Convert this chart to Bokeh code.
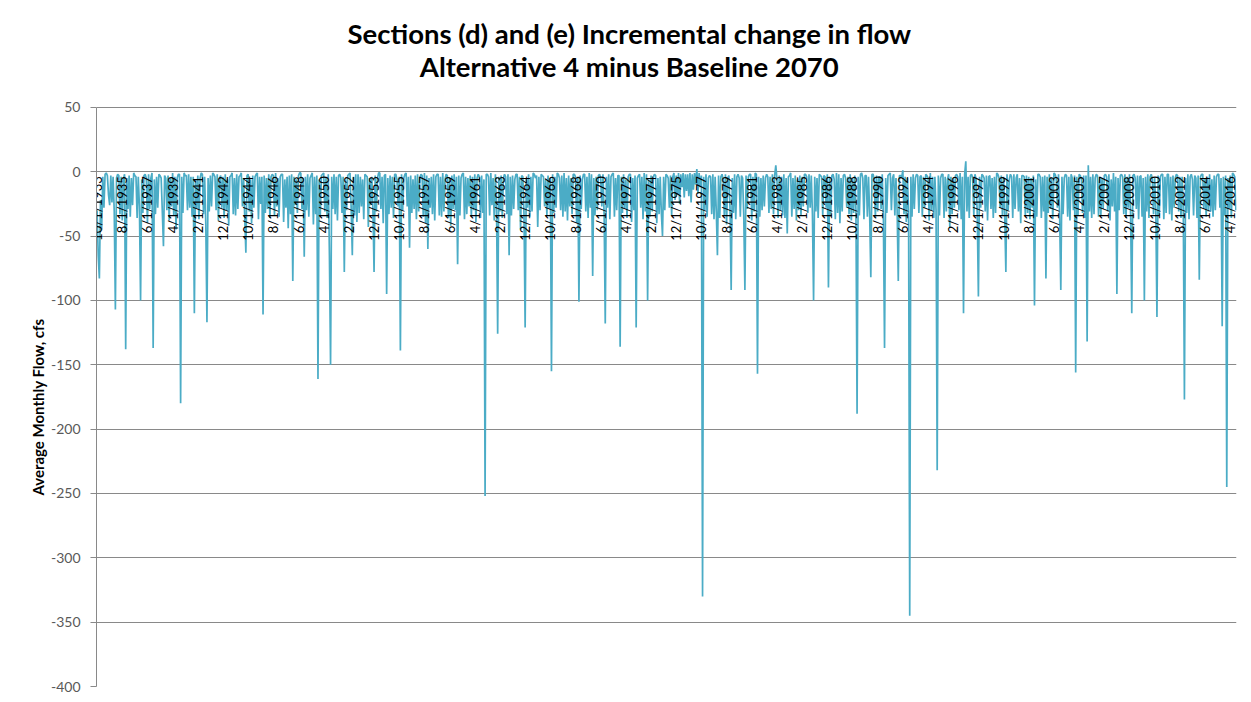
import numpy as np
from math import pi
from bokeh.plotting import figure
from bokeh.models import Range1d, FixedTicker, Label, Title, ColumnDataSource
from bokeh.core.properties import value
from bokeh.embed import file_html
from bokeh.resources import INLINE

# ---------------- data ----------------
START_YEAR, START_MONTH = 1933, 10   # first month of the series (10/1/1933)

# Incremental change in flow (cfs), one row per water year (Oct..Sep)
flow_rows = [
    [-30, -65, -83, -22, -45, -4, -28, -2, -1, -3, -18, -26],
    [-3, -24, -4, -31, -107, -5, -2, -3, -33, -4, -38, -6],
    [-2, -138, -5, -29, -3, -35, -5, -26, -1, -3, -4, -36],
    [-4, -27, -100, -6, -32, -3, -2, -5, -40, -2, -29, -5],
    [-1, -137, -6, -33, -4, -28, -2, -3, -5, -31, -58, -3],
    [-5, -30, -3, -38, -5, -27, -1, -34, -4, -45, -5, -2],
    [-2, -180, -4, -32, -1, -3, -3, -30, -2, -28, -4, -35],
    [-4, -110, -6, -29, -3, -37, -5, -1, -2, -33, -4, -41],
    [-117, -5, -31, -3, -27, -1, -2, -4, -30, -2, -38, -5],
    [-3, -28, -4, -36, -2, -30, -6, -42, -4, -3, -1, -33],
    [-5, -34, -2, -29, -4, -3, -1, -27, -5, -35, -63, -3],
    [-2, -31, -6, -40, -3, -28, -4, -2, -1, -37, -4, -25],
    [-4, -111, -3, -32, -5, -29, -2, -36, -4, -2, -3, -34],
    [-1, -27, -5, -35, -4, -2, -2, -39, -6, -28, -4, -44],
    [-3, -33, -2, -85, -4, -26, -6, -32, -3, -1, -1, -29],
    [-5, -66, -4, -30, -2, -35, -5, -3, -1, -41, -4, -33],
    [-3, -161, -6, -34, -3, -2, -1, -31, -5, -36, -2, -65],
    [-150, -4, -29, -2, -33, -4, -38, -3, -2, -5, -32, -4],
    [-78, -6, -30, -3, -2, -1, -28, -65, -4, -34, -2, -39],
    [-2, -32, -4, -27, -6, -37, -2, -3, -4, -43, -5, -26],
    [-4, -28, -78, -3, -31, -5, -1, -1, -29, -4, -40, -3],
    [-2, -95, -5, -33, -3, -28, -4, -36, -2, -2, -6, -27],
    [-4, -139, -2, -30, -5, -2, -1, -27, -4, -59, -3, -32],
    [-6, -29, -3, -37, -2, -31, -5, -2, -3, -35, -1, -40],
    [-3, -60, -5, -28, -4, -33, -2, -38, -4, -2, -2, -34],
    [-4, -35, -1, -31, -6, -2, -3, -36, -5, -42, -3, -29],
    [-2, -30, -4, -72, -3, -34, -5, -2, -1, -37, -4, -33],
    [-5, -27, -3, -35, -4, -30, -2, -39, -5, -2, -4, -36],
    [-3, -32, -6, -252, -2, -2, -4, -34, -1, -26, -5, -38],
    [-2, -28, -126, -4, -31, -3, -36, -5, -2, -4, -33, -2],
    [-65, -4, -34, -3, -29, -6, -2, -2, -30, -4, -45, -3],
    [-4, -33, -121, -5, -28, -2, -35, -4, -31, -1, -2, -5],
    [-3, -43, -4, -30, -2, -3, -4, -27, -6, -34, -3, -29],
    [-5, -155, -2, -32, -4, -28, -1, -2, -5, -30, -3, -35],
    [-1, -31, -5, -38, -3, -27, -5, -33, -2, -2, -4, -40],
    [-4, -101, -3, -29, -6, -2, -2, -31, -4, -36, -1, -28],
    [-2, -81, -5, -34, -4, -30, -3, -2, -5, -27, -2, -33],
    [-118, -4, -28, -2, -37, -4, -2, -1, -35, -5, -30, -3],
    [-3, -136, -4, -32, -2, -29, -6, -36, -4, -2, -2, -39],
    [-5, -30, -3, -121, -5, -3, -2, -28, -4, -37, -1, -31],
    [-2, -100, -6, -35, -3, -31, -4, -2, -3, -40, -5, -33],
    [-4, -32, -50, -4, -30, -2, -3, -5, -28, -3, -34, -4],
    [-1, -22, -3, -18, -1, -25, -2, -12, -1, -20, -2, -15],
    [-2, -19, -1, -24, -2, -14, -1, -10, 2, -17, -1, -12],
    [-3, -330, -4, -30, -2, -35, -5, -3, -4, -33, -2, -37],
    [-4, -31, -65, -3, -36, -4, -2, -6, -34, -2, -41, -5],
    [-3, -28, -92, -5, -32, -2, -37, -4, -2, -5, -35, -3],
    [-5, -34, -92, -3, -29, -4, -2, -2, -38, -4, -31, -1],
    [-2, -157, -4, -35, -5, -30, -3, -27, -5, -2, -4, -32],
    [-4, -29, -2, -33, -3, 5, -6, -36, -3, -30, -4, -34],
    [-2, -36, -5, -48, -4, -3, -1, -35, -5, -29, -3, -38],
    [-6, -30, -3, -34, -4, -27, -2, -2, -4, -32, -2, -28],
    [-3, -33, -100, -4, -31, -5, -36, -2, -3, -4, -34, -3],
    [-4, -28, -2, -90, -4, -35, -3, -2, -6, -37, -1, -32],
    [-2, -40, -5, -31, -3, -2, -5, -28, -4, -33, -2, -38],
    [-5, -32, -3, -29, -188, -4, -34, -2, -1, -5, -37, -3],
    [-3, -35, -4, -33, -82, -2, -2, -6, -36, -3, -31, -4],
    [-4, -29, -2, -37, -137, -5, -32, -3, -2, -1, -30, -5],
    [-2, -34, -5, -30, -85, -3, -3, -4, 1, -33, -4, -39],
    [-5, -31, -345, -4, -35, -2, -29, -5, -2, -3, -32, -4],
    [-3, -35, -4, -28, -2, -3, -5, -38, -1, -30, -4, -36],
    [-4, -30, -232, -3, -34, -5, -2, -2, -36, -4, -31, -6],
    [-2, -43, -4, -33, -5, -28, -3, -2, -4, -30, -1, -37],
    [-4, -110, -2, 8, -31, -4, -36, -3, -2, -5, -34, -2],
    [-6, -33, -97, -4, -28, -2, -3, -5, -31, -3, -38, -4],
    [-3, -29, -5, -36, -4, -32, -1, -2, -5, -28, -3, -34],
    [-4, -35, -78, -2, -30, -6, -2, -4, -36, -2, -29, -5],
    [-2, -31, -5, -40, -3, -3, -4, -34, -3, -32, -4, -37],
    [-5, -28, -3, -104, -6, -35, -2, -2, -4, -36, -4, -31],
    [-3, -83, -4, -32, -2, -29, -5, -37, -1, -2, -5, -28],
    [-2, -36, -92, -4, -33, -5, -2, -3, -35, -4, -38, -2],
    [-5, -30, -3, -156, -4, -34, -2, -3, -6, -32, -3, -36],
    [-3, -132, 5, -31, -4, -36, -2, -33, -5, -2, -3, -35],
    [-4, -34, -5, -29, -3, -2, -4, -31, -2, -38, -6, -27],
    [-1, -31, -4, -95, -5, -30, -3, -2, -4, -33, -2, -36],
    [-4, -28, -2, -34, -110, -3, -2, -5, -29, -3, -37, -4],
    [-3, -35, -5, -100, -4, -31, -2, -36, -4, -2, -6, -33],
    [-5, -30, -113, -3, -34, -4, -2, -2, -37, -4, -32, -2],
    [-2, -33, -4, -38, -3, -28, -5, -2, -3, -31, -4, -36],
    [-4, -29, -177, -5, -32, -2, -37, -4, -2, -6, -34, -3],
    [-5, -36, -3, -84, -4, -2, -2, -29, -5, -35, -4, -31],
    [-2, -31, -6, -35, -3, -30, -4, -2, -2, -28, -5, -120],
    [-4, -34, -3, -245, -5, -29, -3, -36, -1, -2, -4, -30],
]

tick_labels = [
    "10/1/1933", "8/1/1935", "6/1/1937", "4/1/1939", "2/1/1941", "12/1/1942",
    "10/1/1944", "8/1/1946", "6/1/1948", "4/1/1950", "2/1/1952", "12/1/1953",
    "10/1/1955", "8/1/1957", "6/1/1959", "4/1/1961", "2/1/1963", "12/1/1964",
    "10/1/1966", "8/1/1968", "6/1/1970", "4/1/1972", "2/1/1974", "12/1/1975",
    "10/1/1977", "8/1/1979", "6/1/1981", "4/1/1983", "2/1/1985", "12/1/1986",
    "10/1/1988", "8/1/1990", "6/1/1992", "4/1/1994", "2/1/1996", "12/1/1997",
    "10/1/1999", "8/1/2001", "6/1/2003", "4/1/2005", "2/1/2007", "12/1/2008",
    "10/1/2010", "8/1/2012", "6/1/2014", "4/1/2016",
]

y_ticks = [50, 0, -50, -100, -150, -200, -250, -300, -350, -400]

title_line1 = "Sections (d) and (e) Incremental change in flow"
title_line2 = "Alternative 4 minus Baseline 2070"
y_label = "Average Monthly Flow, cfs"

# ---------------- derived ----------------
flow = [v for row in flow_rows for v in row]
month_idx = list(range(len(flow)))


def label_index(lbl):
    m, d, y = (int(s) for s in lbl.split("/"))
    return (y - START_YEAR) * 12 + (m - START_MONTH)


tick_pos = [label_index(s) for s in tick_labels]

LINE_COLOR = "#4BACC6"
GRID_COLOR = "#898989"
FONT = "Lato"
HEADROOM_TOP = 133   # data units kept above the plot area for the two title lines

p = figure(
    width=1248, height=698,
    output_backend="svg", toolbar_location=None, title_location=None,
    x_range=Range1d(-0.5, len(flow) - 0.5),
    y_range=Range1d(min(y_ticks), HEADROOM_TOP),
    min_border_left=96, min_border_right=12,
    min_border_top=0, min_border_bottom=12,
)
p.outline_line_color = None
p.background_fill_color = "white"
p.border_fill_color = "white"

# axes
p.xaxis.visible = False
p.xgrid.visible = False

yax = p.yaxis[0]
yax.ticker = FixedTicker(ticks=y_ticks)
yax.bounds = (min(y_ticks), max(y_ticks))
yax.major_label_overrides = {t: str(t) for t in y_ticks}
yax.major_label_text_font = FONT
yax.major_label_text_font_size = "14px"
yax.major_label_text_color = "#595959"
yax.major_label_standoff = 10
yax.axis_line_color = GRID_COLOR
yax.major_tick_line_color = GRID_COLOR
yax.major_tick_out = 6
yax.major_tick_in = 0
yax.minor_tick_line_color = None

# y-axis title, placed along the plot-area part of the axis
p.add_layout(Title(text=y_label, align="left", offset=191, standoff=1,
                   vertical_align="bottom", text_font=FONT,
                   text_font_style="bold", text_font_size="15px",
                   text_color="black"), "left")

p.ygrid.ticker = FixedTicker(ticks=y_ticks)
p.ygrid.grid_line_color = GRID_COLOR
p.ygrid.grid_line_width = 1

# series
src = ColumnDataSource(dict(x=month_idx, y=flow))
p.line("x", "y", source=src, line_color=LINE_COLOR, line_width=1.7)

# category labels drawn at the zero line (Excel style, rotated)
LABEL_GAP = -3.5
lab_src = ColumnDataSource(dict(x=tick_pos, y=[LABEL_GAP] * len(tick_pos), text=tick_labels))
p.text("x", "y", text="text", source=lab_src, angle=pi / 2,
       text_align="right", text_baseline="middle",
       text_font=value(FONT), text_font_size="13px", text_color="black")

# two-line title, centred over the chart area
TITLE_X = 465
for txt, ty in ((title_line1, 107.3), (title_line2, 81.7)):
    p.add_layout(Label(x=TITLE_X, y=ty, text=txt, text_align="center",
                       text_baseline="alphabetic", text_font=FONT,
                       text_font_style="bold", text_font_size="27.5px",
                       text_color="black"))

open("out.html", "w").write(file_html(p, INLINE))
